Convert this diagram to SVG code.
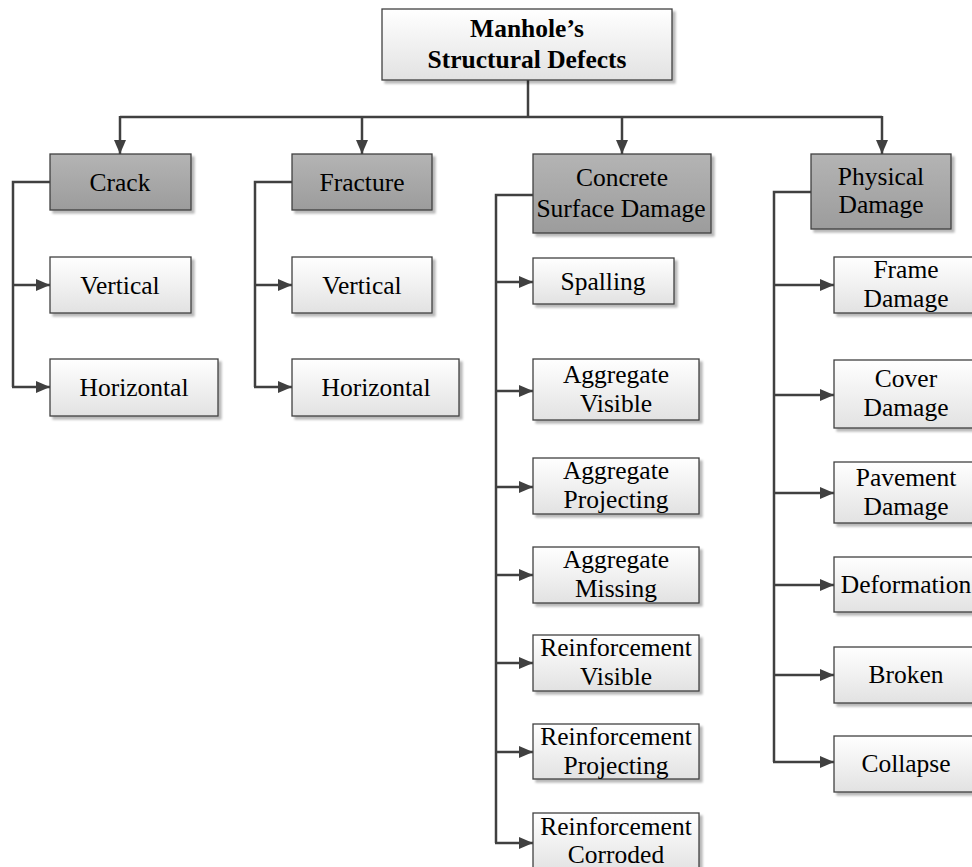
<svg xmlns="http://www.w3.org/2000/svg" width="972" height="867" viewBox="0 0 972 867">
  <defs>
    <linearGradient id="gLight" x1="0" y1="0" x2="0" y2="1">
      <stop offset="0" stop-color="#ffffff"/>
      <stop offset="1" stop-color="#e2e2e2"/>
    </linearGradient>
    <linearGradient id="gDark" x1="0" y1="0" x2="0" y2="1">
      <stop offset="0" stop-color="#b4b4b4"/>
      <stop offset="1" stop-color="#9c9c9c"/>
    </linearGradient>
    <filter id="shadow" x="-10%" y="-10%" width="130%" height="140%">
      <feDropShadow dx="3" dy="3" stdDeviation="1" flood-color="#000000" flood-opacity="0.28"/>
    </filter>
    <marker id="arrow" viewBox="0 0 14 12" refX="14" refY="6" markerWidth="14" markerHeight="12" markerUnits="userSpaceOnUse" orient="auto">
      <path d="M0,0 L14,6 L0,12 z" fill="#404040"/>
    </marker>
  </defs>
  <style>
    .box { fill: url(#gLight); stroke: #404040; stroke-width: 1.3; filter: url(#shadow); }
    .cat { fill: url(#gDark); stroke: #404040; stroke-width: 1.3; filter: url(#shadow); }
    .t { font-family: "Liberation Serif", "Times New Roman", serif; font-size: 25.5px; fill: #000000; text-anchor: middle; }
    .tb { font-weight: bold; }
    .wire { fill: none; stroke: #404040; stroke-width: 2.5; }
    .arr { marker-end: url(#arrow); }
  </style>
  <rect width="972" height="867" fill="#ffffff"/>

  <!-- connectors -->
  <g id="connectors">
    <!-- root to categories -->
    <path class="wire" d="M528,80 V117"/>
    <path class="wire" d="M120,117 H882"/>
    <path class="wire arr" d="M120,116 V154"/>
    <path class="wire arr" d="M362,116 V154"/>
    <path class="wire arr" d="M622,116 V154"/>
    <path class="wire arr" d="M882,116 V154"/>
    <!-- Crack -->
    <path class="wire" d="M50,182 H13 V387"/>
    <path class="wire arr" d="M12,285 H50"/>
    <path class="wire arr" d="M12,387 H50"/>
    <!-- Fracture -->
    <path class="wire" d="M292,182 H255 V387"/>
    <path class="wire arr" d="M254,285 H292"/>
    <path class="wire arr" d="M254,387 H292"/>
    <!-- Concrete Surface Damage -->
    <path class="wire" d="M533,195 H496 V843"/>
    <path class="wire arr" d="M495,282 H533"/>
    <path class="wire arr" d="M495,391 H533"/>
    <path class="wire arr" d="M495,487 H533"/>
    <path class="wire arr" d="M495,575 H533"/>
    <path class="wire arr" d="M495,663 H533"/>
    <path class="wire arr" d="M495,752 H533"/>
    <path class="wire arr" d="M495,843 H533"/>
    <!-- Physical Damage -->
    <path class="wire" d="M811,192 H774 V762"/>
    <path class="wire arr" d="M773,285 H834"/>
    <path class="wire arr" d="M773,395 H834"/>
    <path class="wire arr" d="M773,493 H834"/>
    <path class="wire arr" d="M773,585 H834"/>
    <path class="wire arr" d="M773,675 H834"/>
    <path class="wire arr" d="M773,762 H834"/>
  </g>

  <!-- root -->
  <g id="root">
    <rect class="box" x="382" y="9" width="290" height="71"/>
    <text class="t tb" x="527" y="37">Manhole’s</text>
    <text class="t tb" x="527" y="68">Structural Defects</text>
  </g>

  <!-- Crack -->
  <g id="crack">
    <rect class="cat" x="50" y="154" width="141" height="56"/>
    <text class="t" x="120" y="191">Crack</text>
  </g>
  <g id="crack-vertical">
    <rect class="box" x="50" y="257" width="141" height="56"/>
    <text class="t" x="120" y="294">Vertical</text>
  </g>
  <g id="crack-horizontal">
    <rect class="box" x="50" y="359" width="168" height="57"/>
    <text class="t" x="134" y="396">Horizontal</text>
  </g>

  <!-- Fracture -->
  <g id="fracture">
    <rect class="cat" x="292" y="154" width="140" height="56"/>
    <text class="t" x="362" y="191">Fracture</text>
  </g>
  <g id="fracture-vertical">
    <rect class="box" x="292" y="257" width="140" height="56"/>
    <text class="t" x="362" y="294">Vertical</text>
  </g>
  <g id="fracture-horizontal">
    <rect class="box" x="292" y="359" width="167" height="57"/>
    <text class="t" x="376" y="396">Horizontal</text>
  </g>

  <!-- Concrete Surface Damage -->
  <g id="concrete">
    <rect class="cat" x="533" y="154" width="178" height="79"/>
    <text class="t" x="622" y="186">Concrete</text>
    <text class="t" x="621" y="217">Surface Damage</text>
  </g>
  <g id="spalling">
    <rect class="box" x="533" y="258" width="141" height="46"/>
    <text class="t" x="603" y="290">Spalling</text>
  </g>
  <g id="aggregate-visible">
    <rect class="box" x="533" y="359" width="166" height="61"/>
    <text class="t" x="616" y="383">Aggregate</text>
    <text class="t" x="616" y="412">Visible</text>
  </g>
  <g id="aggregate-projecting">
    <rect class="box" x="533" y="458" width="166" height="56"/>
    <text class="t" x="616" y="479">Aggregate</text>
    <text class="t" x="616" y="508">Projecting</text>
  </g>
  <g id="aggregate-missing">
    <rect class="box" x="533" y="547" width="166" height="56"/>
    <text class="t" x="616" y="568">Aggregate</text>
    <text class="t" x="616" y="597">Missing</text>
  </g>
  <g id="reinforcement-visible">
    <rect class="box" x="533" y="635" width="166" height="56"/>
    <text class="t" x="616" y="656">Reinforcement</text>
    <text class="t" x="616" y="685">Visible</text>
  </g>
  <g id="reinforcement-projecting">
    <rect class="box" x="533" y="724" width="166" height="55"/>
    <text class="t" x="616" y="745">Reinforcement</text>
    <text class="t" x="616" y="774">Projecting</text>
  </g>
  <g id="reinforcement-corroded">
    <rect class="box" x="533" y="813" width="166" height="60"/>
    <text class="t" x="616" y="835">Reinforcement</text>
    <text class="t" x="616" y="863">Corroded</text>
  </g>

  <!-- Physical Damage -->
  <g id="physical">
    <rect class="cat" x="811" y="154" width="140" height="75"/>
    <text class="t" x="881" y="185">Physical</text>
    <text class="t" x="881" y="213">Damage</text>
  </g>
  <g id="frame-damage">
    <rect class="box" x="834" y="257" width="144" height="56"/>
    <text class="t" x="906" y="278">Frame</text>
    <text class="t" x="906" y="307">Damage</text>
  </g>
  <g id="cover-damage">
    <rect class="box" x="834" y="360" width="144" height="68"/>
    <text class="t" x="906" y="387">Cover</text>
    <text class="t" x="906" y="416">Damage</text>
  </g>
  <g id="pavement-damage">
    <rect class="box" x="834" y="462" width="144" height="61"/>
    <text class="t" x="906" y="486">Pavement</text>
    <text class="t" x="906" y="515">Damage</text>
  </g>
  <g id="deformation">
    <rect class="box" x="834" y="557" width="144" height="55"/>
    <text class="t" x="906" y="593">Deformation</text>
  </g>
  <g id="broken">
    <rect class="box" x="834" y="647" width="144" height="56"/>
    <text class="t" x="906" y="683">Broken</text>
  </g>
  <g id="collapse">
    <rect class="box" x="834" y="736" width="144" height="56"/>
    <text class="t" x="906" y="772">Collapse</text>
  </g>
</svg>
